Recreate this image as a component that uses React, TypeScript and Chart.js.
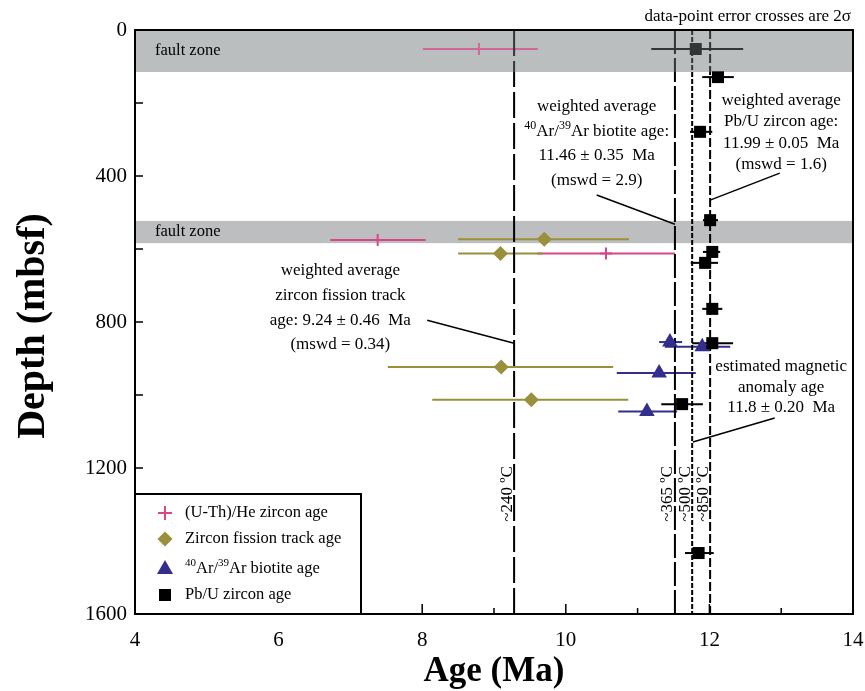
import React, { useEffect, useRef } from 'react';
import { Chart, registerables } from 'chart.js';
Chart.register(...registerables);

const FONT = '"Liberation Serif", "DejaVu Serif", serif';

// (U-Th)/He zircon ages
const uthAge = [8.79, 7.38, 10.56];
const uthDepth = [52, 575, 612];
const uthLo = [8.01, 6.72, 9.6];
const uthHi = [9.61, 8.05, 11.52];

// Zircon fission track ages
const zftAge = [9.7, 9.09, 9.1, 9.52];
const zftDepth = [573, 612, 923, 1013];
const zftLo = [8.5, 8.5, 7.52, 8.14];
const zftHi = [10.88, 9.68, 10.66, 10.87];

// 40Ar/39Ar biotite ages
const arAge = [11.45, 11.9, 11.3, 11.13];
const arDepth = [855, 868, 940, 1045];
const arLo = [11.3, 11.38, 10.71, 10.73];
const arHi = [11.62, 12.29, 11.81, 11.55];

// Pb/U zircon ages
const pbAge = [11.81, 12.12, 11.87, 12.01, 12.04, 11.94, 12.04, 12.04, 11.62, 11.85];
const pbDepth = [52, 129, 279, 521, 608, 638, 764, 858, 1025, 1433];
const pbLo = [11.19, 11.9, 11.73, 11.91, 11.91, 11.74, 11.9, 11.76, 11.33, 11.66];
const pbHi = [12.47, 12.34, 12.04, 12.12, 12.15, 12.12, 12.18, 12.33, 11.91, 12.06];

// reference (closure temperature) lines
const refAge = [9.28, 11.52, 11.76, 12.01];
const refLabel = ['~240 ºC', '~365 ºC', '~500 ºC', '~850 ºC'];

// fault zones (depth range)
const zoneTop = [0, 523];
const zoneBottom = [115, 584];

const xTickLabels = [4, 6, 8, 10, 12, 14];
const xMinorTicks = [5, 7, 9, 11, 13];
const yTickLabels = [0, 400, 800, 1200, 1600];
const yMinorTicks = [200, 600, 1000, 1400];

const PINK = '#d8478a';
const OLIVE = '#9a8f3a';
const NAVY = '#332e8e';
const BLACK = '#000000';

const notes = [
  { lines: ['weighted average', '^40Ar/^39Ar biotite age:', '11.46 ± 0.35  Ma', '(mswd = 2.9)'], age: 10.43, depth: 211, step: 24.5 },
  { lines: ['weighted average', 'Pb/U zircon age:', '11.99 ± 0.05  Ma', '(mswd = 1.6)'], age: 13.0, depth: 192, step: 21.5 },
  { lines: ['weighted average', 'zircon fission track', 'age: 9.24 ± 0.46  Ma', '(mswd = 0.34)'], age: 6.86, depth: 660, step: 24.7 },
  { lines: ['estimated magnetic', 'anomaly age', '11.8 ± 0.20  Ma'], age: 13.0, depth: 923, step: 20.5 },
];

const connectors = [
  [10.43, 452, 11.52, 532],
  [12.98, 392, 12.01, 466],
  [8.07, 795, 9.28, 858],
  [12.91, 1063, 11.77, 1129],
];

function drawRich(ctx: CanvasRenderingContext2D, text: string, x: number, y: number, size: number, align: string) {
  const parts: { t: string; sup: boolean; w: number }[] = [];
  const re = /\^(\d+)/g;
  let last = 0;
  let m: RegExpExecArray | null;
  while ((m = re.exec(text))) {
    if (m.index > last) parts.push({ t: text.slice(last, m.index), sup: false, w: 0 });
    parts.push({ t: m[1], sup: true, w: 0 });
    last = m.index + m[0].length;
  }
  if (last < text.length) parts.push({ t: text.slice(last), sup: false, w: 0 });
  const normal = `${size}px ${FONT}`;
  const small = `${Math.round(size * 0.68)}px ${FONT}`;
  let total = 0;
  for (const p of parts) {
    ctx.font = p.sup ? small : normal;
    p.w = ctx.measureText(p.t).width;
    total += p.w;
  }
  let cx = align === 'center' ? x - total / 2 : align === 'right' ? x - total : x;
  ctx.textAlign = 'left';
  ctx.textBaseline = 'middle';
  for (const p of parts) {
    ctx.font = p.sup ? small : normal;
    ctx.fillText(p.t, cx, p.sup ? y - size * 0.33 : y);
    cx += p.w;
  }
}

const series = [
  { age: uthAge, depth: uthDepth, lo: uthLo, hi: uthHi, color: PINK },
  { age: zftAge, depth: zftDepth, lo: zftLo, hi: zftHi, color: OLIVE },
  { age: arAge, depth: arDepth, lo: arLo, hi: arHi, color: NAVY },
  { age: pbAge, depth: pbDepth, lo: pbLo, hi: pbHi, color: BLACK },
];

function drawMarker(ctx: CanvasRenderingContext2D, kind: string, x: number, y: number, color: string) {
  ctx.save();
  ctx.fillStyle = color;
  ctx.strokeStyle = color;
  ctx.lineWidth = 2;
  ctx.beginPath();
  if (kind === 'cross') {
    ctx.moveTo(x - 7, y); ctx.lineTo(x + 7, y);
    ctx.moveTo(x, y - 7); ctx.lineTo(x, y + 7);
    ctx.stroke();
  } else if (kind === 'diamond') {
    ctx.moveTo(x, y - 7.5); ctx.lineTo(x + 7.5, y); ctx.lineTo(x, y + 7.5); ctx.lineTo(x - 7.5, y); ctx.closePath();
    ctx.fill();
  } else if (kind === 'triangle') {
    ctx.moveTo(x, y - 9); ctx.lineTo(x + 8, y + 5); ctx.lineTo(x - 8, y + 5); ctx.closePath();
    ctx.fill();
  } else {
    ctx.rect(x - 6, y - 6, 12, 12);
    ctx.fill();
  }
  ctx.restore();
}

const customPlugin = {
  id: 'custom',
  beforeDatasetsDraw(chart: any) {
    const { ctx, chartArea: a, scales } = chart;
    const xs = scales.x;
    const ys = scales.y;
    ctx.save();
    ctx.fillStyle = '#bcbec0';
    for (let i = 0; i < zoneTop.length; i++) {
      const y1 = ys.getPixelForValue(zoneTop[i]);
      const y2 = ys.getPixelForValue(zoneBottom[i]);
      ctx.fillRect(a.left, y1, a.right - a.left, y2 - y1);
    }
    ctx.lineWidth = 2;
    for (const s of series) {
      ctx.strokeStyle = s.color;
      for (let i = 0; i < s.age.length; i++) {
        const py = ys.getPixelForValue(s.depth[i]);
        ctx.beginPath();
        ctx.moveTo(xs.getPixelForValue(s.lo[i]), py);
        ctx.lineTo(xs.getPixelForValue(s.hi[i]), py);
        ctx.stroke();
      }
    }
    ctx.restore();
  },
  afterDatasetsDraw(chart: any) {
    const { ctx, chartArea: a, scales } = chart;
    const ys = scales.y;
    // upper fault zone veils the marks beneath it
    ctx.save();
    ctx.fillStyle = 'rgba(188,190,192,0.28)';
    const y1 = ys.getPixelForValue(zoneTop[0]);
    const y2 = ys.getPixelForValue(zoneBottom[0]);
    ctx.fillRect(a.left, y1, a.right - a.left, y2 - y1);
    ctx.restore();
  },
  afterDraw(chart: any) {
    const { ctx, chartArea: a, scales } = chart;
    const xs = scales.x;
    const ys = scales.y;
    ctx.save();
    ctx.fillStyle = '#000';
    ctx.strokeStyle = '#000';

    // frame
    ctx.lineWidth = 2;
    ctx.strokeRect(a.left, a.top, a.right - a.left, a.bottom - a.top);

    // ticks
    ctx.lineWidth = 1.5;
    ctx.beginPath();
    for (const v of [...yTickLabels.slice(1, -1), ...yMinorTicks]) {
      const py = ys.getPixelForValue(v);
      ctx.moveTo(a.left, py); ctx.lineTo(a.left + 8, py);
    }
    for (const v of xTickLabels.slice(1, -1)) {
      const px = xs.getPixelForValue(v);
      ctx.moveTo(px, a.bottom); ctx.lineTo(px, a.bottom - 10);
    }
    for (const v of xMinorTicks) {
      const px = xs.getPixelForValue(v);
      ctx.moveTo(px, a.bottom); ctx.lineTo(px, a.bottom - 6);
    }
    ctx.stroke();

    // tick labels
    ctx.font = `21px ${FONT}`;
    ctx.textAlign = 'center';
    ctx.textBaseline = 'middle';
    for (const v of xTickLabels) ctx.fillText(String(v), xs.getPixelForValue(v), a.bottom + 26);
    ctx.textAlign = 'right';
    for (const v of yTickLabels) ctx.fillText(String(v), a.left - 8, ys.getPixelForValue(v));

    // axis titles
    ctx.font = `bold 35px ${FONT}`;
    ctx.textAlign = 'center';
    ctx.textBaseline = 'alphabetic';
    ctx.fillText('Age (Ma)', (a.left + a.right) / 2, a.bottom + 67);
    ctx.save();
    ctx.font = `bold 40px ${FONT}`;
    ctx.translate(44, (a.top + a.bottom) / 2 + 4);
    ctx.rotate(-Math.PI / 2);
    ctx.fillText('Depth (mbsf)', 0, 0);
    ctx.restore();

    // header note
    ctx.font = `17px ${FONT}`;
    ctx.textAlign = 'right';
    ctx.textBaseline = 'middle';
    ctx.fillText('data-point error crosses are 2σ', a.right - 2, a.top - 13);

    // fault zone labels
    ctx.font = `16.5px ${FONT}`;
    ctx.textAlign = 'left';
    for (let i = 0; i < zoneTop.length; i++) {
      const py = (ys.getPixelForValue(zoneTop[i]) + ys.getPixelForValue(zoneBottom[i])) / 2;
      ctx.fillText('fault zone', a.left + 20, py);
    }

    // rotated reference labels
    ctx.font = `17px ${FONT}`;
    ctx.textAlign = 'center';
    for (let i = 0; i < refAge.length; i++) {
      ctx.save();
      ctx.translate(xs.getPixelForValue(refAge[i]) - 7, ys.getPixelForValue(1271));
      ctx.rotate(-Math.PI / 2);
      ctx.fillText(refLabel[i], 0, 0);
      ctx.restore();
    }

    // annotation blocks
    for (const n of notes) {
      const cx = xs.getPixelForValue(n.age);
      const y0 = ys.getPixelForValue(n.depth);
      n.lines.forEach((ln, k) => drawRich(ctx, ln, cx, y0 + k * n.step, 17, 'center'));
    }

    // connectors
    ctx.lineWidth = 1.5;
    ctx.beginPath();
    for (const c of connectors) {
      ctx.moveTo(xs.getPixelForValue(c[0]), ys.getPixelForValue(c[1]));
      ctx.lineTo(xs.getPixelForValue(c[2]), ys.getPixelForValue(c[3]));
    }
    ctx.stroke();

    // legend
    const lx = a.left, ly = 494, lw = 361 - a.left, lh = a.bottom - 494;
    ctx.fillStyle = '#fff';
    ctx.fillRect(lx, ly, lw, lh);
    ctx.lineWidth = 2;
    ctx.strokeRect(lx, ly, lw, lh);
    const items = [
      { kind: 'cross', color: PINK, text: '(U-Th)/He zircon age', y: 513 },
      { kind: 'diamond', color: OLIVE, text: 'Zircon fission track age', y: 539 },
      { kind: 'triangle', color: NAVY, text: '^40Ar/^39Ar biotite age', y: 569 },
      { kind: 'square', color: BLACK, text: 'Pb/U zircon age', y: 595 },
    ];
    for (const it of items) {
      drawMarker(ctx, it.kind, 165, it.y, it.color);
      ctx.fillStyle = '#000';
      drawRich(ctx, it.text, 185, it.y, 16.5, 'left');
    }
    ctx.restore();
  },
};

export default function App() {
  const ref = useRef<HTMLCanvasElement | null>(null);
  useEffect(() => {
    if (!ref.current) return;
    const mk = (age: number[], depth: number[]) => age.map((v, i) => ({ x: v, y: depth[i] }));
    const refDash = [[26, 5], [24, 4], [5, 2], [9, 3]];
    const refSets = refAge.map((v, i) => ({
      type: 'line' as const,
      data: [{ x: v, y: 0 }, { x: v, y: 1600 }],
      borderColor: '#000',
      borderWidth: 2,
      borderDash: refDash[i],
      pointRadius: 0,
      showLine: true,
      fill: false,
      order: 10,
    }));
    const chart = new Chart(ref.current, {
      type: 'scatter',
      data: {
        datasets: [
          ...refSets,
          { label: '(U-Th)/He zircon age', data: mk(uthAge, uthDepth), pointStyle: 'cross', pointRadius: 6, pointBorderWidth: 2, pointBorderColor: PINK, pointBackgroundColor: PINK, order: 3 },
          { label: 'Zircon fission track age', data: mk(zftAge, zftDepth), pointStyle: 'rectRot', pointRadius: 7.5, pointBorderWidth: 0, pointBorderColor: OLIVE, pointBackgroundColor: OLIVE, order: 2 },
          { label: '40Ar/39Ar biotite age', data: mk(arAge, arDepth), pointStyle: 'triangle', pointRadius: 9, pointBorderWidth: 0, pointBorderColor: NAVY, pointBackgroundColor: NAVY, order: 1 },
          { label: 'Pb/U zircon age', data: mk(pbAge, pbDepth), pointStyle: 'rect', pointRadius: 8.5, pointBorderWidth: 0, pointBorderColor: BLACK, pointBackgroundColor: BLACK, order: 0 },
        ] as any,
      },
      options: {
        animation: false,
        responsive: false,
        layout: { padding: { left: 0, top: 30, right: 12, bottom: 0 } },
        plugins: { legend: { display: false }, tooltip: { enabled: false } },
        scales: {
          x: {
            type: 'linear', min: 4, max: 14,
            ticks: { display: false },
            grid: { display: false, drawTicks: false },
            border: { display: false },
            afterFit: (s: any) => { s.height = 77; },
          },
          y: {
            type: 'linear', reverse: true, min: 0, max: 1600,
            ticks: { display: false },
            grid: { display: false, drawTicks: false },
            border: { display: false },
            afterFit: (s: any) => { s.width = 135; },
          },
        },
      } as any,
      plugins: [customPlugin],
    });
    return () => chart.destroy();
  }, []);
  return (
    <div style={{ position: 'absolute', left: 0, top: 0, width: 865, height: 691, background: '#fff' }}>
      <canvas ref={ref} width={865} height={691} style={{ display: 'block' }} />
    </div>
  );
}
